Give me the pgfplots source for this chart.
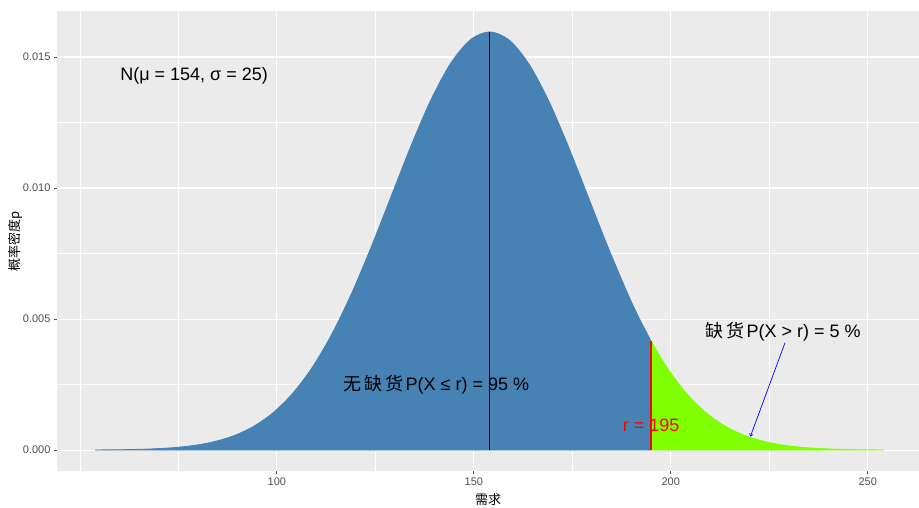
\documentclass[border=0pt]{standalone}
\usepackage{pgfplots}
\pgfplotsset{compat=1.18}
\usepackage{fontspec}
\setmainfont{Liberation Sans}
\newfontfamily\cjk{Noto Sans CJK SC}
\usetikzlibrary{arrows.meta}
\definecolor{steelblue}{HTML}{4682B4}
\definecolor{chartreuse}{HTML}{7FFF00}
\definecolor{panelbg}{HTML}{EBEBEB}
\definecolor{tickgray}{HTML}{4D4D4D}
\begin{document}
\begin{tikzpicture}
\begin{axis}[
    width=862pt, height=460pt, scale only axis,
    xmin=44.2, xmax=263, ymin=-0.000798, ymax=0.016756,
    axis background/.style={fill=panelbg},
    axis line style={draw=none},
    xtick={100,150,200,250}, minor xtick={50,75,125,175,225},
    ytick={0,0.005,0.010,0.015}, minor ytick={0.0025,0.0075,0.0125},
    grid=both,
    major grid style={white, line width=1.1pt},
    minor grid style={white, line width=0.55pt},
    tick align=outside, xtick pos=bottom, ytick pos=left,
    major tick length=3pt, minor tick length=0pt,
    every tick/.style={tickgray, line width=0.8pt},
    tick label style={font=\fontsize{11}{13}\selectfont, text=tickgray},
    /pgf/number format/assume math mode=true,
    scaled y ticks=false,
    yticklabel style={/pgf/number format/.cd, fixed, fixed zerofill, precision=3},
    xlabel={\cjk 需求},
    ylabel={\cjk 概率密度p},
    label style={font=\fontsize{13}{15}\selectfont},
    xlabel style={at={(axis description cs:0.5,-0.063)}, anchor=center},
    ylabel style={at={(axis description cs:-0.0487,0.5)}, anchor=center},
]
% P(X <= 195) part
\addplot[fill=steelblue, draw=steelblue, line width=0.8pt, smooth] coordinates {
    (54,0.0000053) (59,0.0000117) (64,0.0000245) (69,0.0000493) (74,0.0000954)
    (79,0.000177) (84,0.000317) (89,0.000543) (94,0.000896) (99,0.001419)
    (104,0.002160) (109,0.003158) (114,0.004437) (119,0.005989) (124,0.007768)
    (129,0.009679) (134,0.011588) (139,0.013329) (144,0.014731) (149,0.015642)
    (154,0.015958) (159,0.015642) (164,0.014731) (169,0.013329) (174,0.011588)
    (179,0.009679) (184,0.007768) (189,0.005989) (192,0.005026) (195,0.004158)
} \closedcycle;
% P(X > 195) part
\addplot[fill=chartreuse, draw=chartreuse, line width=0.8pt, smooth] coordinates {
    (195,0.004158) (199,0.003158) (204,0.002160) (209,0.001419) (214,0.000896)
    (219,0.000543) (224,0.000317) (229,0.000177) (234,0.0000954) (239,0.0000493)
    (244,0.0000245) (249,0.0000117) (254,0.0000053)
} \closedcycle;
\node[font=\fontsize{18}{21}\selectfont] at (axis cs:140.5,0.0025)
    {{\cjk 无\hspace{3pt}缺\hspace{3pt}货\hspace{2pt}}P(X ≤ r) = 95 \%};
\addplot[black, line width=1.2pt] coordinates {(154,0) (154,0.015958)};
\addplot[red, line width=1.5pt] coordinates {(195,0) (195,0.004158)};
\node[font=\fontsize{18}{21}\selectfont] at (axis cs:79,0.0143) {N(μ = 154, σ = 25)};
\node[font=\fontsize{18}{21}\selectfont] at (axis cs:228.5,0.0045)
    {{\cjk 缺\hspace{3pt}货\hspace{2pt}}P(X > r) = 5 \%};
\node[font=\fontsize{18}{21}\selectfont, text=red] at (axis cs:195,0.00095) {r = 195};
\draw[blue, line width=0.7pt, -{To[length=3pt,width=4pt]}] (axis cs:229,0.0041) -- (axis cs:220.2,0.00052);
\end{axis}
\pgfresetboundingbox
\path[use as bounding box] ([shift={(-57pt,-36.3pt)}]current axis.south west) rectangle ([shift={(0pt,11pt)}]current axis.north east);
\end{tikzpicture}
\end{document}
